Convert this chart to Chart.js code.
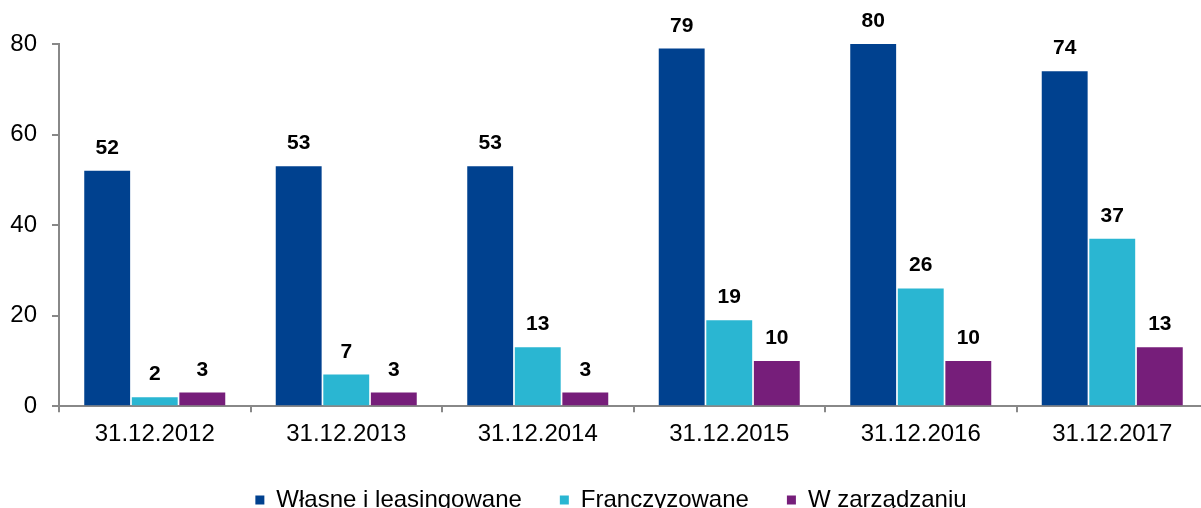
<!DOCTYPE html>
<html>
<head>
<meta charset="utf-8">
<script src="https://cdn.jsdelivr.net/npm/chart.js@4/dist/chart.umd.min.js"></script>
<style>
  html, body { margin: 0; padding: 0; overflow: hidden; background: #fff; }
  #wrap { width: 1215px; height: 522px; }
</style>
</head>
<body>
<div id="wrap"><canvas id="c" width="1215" height="522"></canvas></div>
<script>
const categories = ['31.12.2012', '31.12.2013', '31.12.2014', '31.12.2015', '31.12.2016', '31.12.2017'];
const seriesNames = ['Własne i leasingowane', 'Franczyzowane', 'W zarządzaniu'];
const wlasne = [52, 53, 53, 79, 80, 74];
const franczyzowane = [2, 7, 13, 19, 26, 37];
const wZarzadzaniu = [3, 3, 3, 10, 10, 13];
const yTicks = [0, 20, 40, 60, 80];
const colors = ['#00418F', '#2AB6D2', '#761E7A'];

const FONT = '"Liberation Sans", Arial, sans-serif';

const valueLabels = {
  id: 'valueLabels',
  afterDatasetsDraw(chart) {
    const ctx = chart.ctx;
    ctx.save();
    ctx.font = 'bold 21px ' + FONT;
    ctx.fillStyle = '#000';
    ctx.textAlign = 'center';
    ctx.textBaseline = 'alphabetic';
    chart.data.datasets.forEach((ds, i) => {
      const meta = chart.getDatasetMeta(i);
      meta.data.forEach((bar, j) => {
        ctx.fillText(String(ds.data[j]), bar.x, bar.y - 17);
      });
    });
    ctx.restore();
  }
};

const legendShift = {
  id: 'legendShift',
  afterLayout(chart) {
    if (chart.legend) {
      chart.legend.left += 7;
      chart.legend.right += 7;
    }
  }
};

new Chart(document.getElementById('c'), {
  type: 'bar',
  data: {
    labels: categories,
    datasets: [
      { label: seriesNames[0], data: wlasne, backgroundColor: colors[0] },
      { label: seriesNames[1], data: franczyzowane, backgroundColor: colors[1] },
      { label: seriesNames[2], data: wZarzadzaniu, backgroundColor: colors[2] }
    ]
  },
  options: {
    responsive: false,
    animation: false,
    datasets: { bar: { categoryPercentage: 0.745, barPercentage: 0.965 } },
    layout: { padding: { top: 44, right: 7, left: 0, bottom: 0 } },
    plugins: {
      legend: {
        position: 'bottom',
        labels: {
          font: { family: FONT, size: 24 },
          color: '#000',
          boxWidth: 9,
          boxHeight: 9,
          padding: 38
        }
      },
      tooltip: { enabled: false }
    },
    scales: {
      x: {
        afterFit(scale) { scale.height -= 7; },
        grid: { drawOnChartArea: false, drawTicks: true, tickLength: 6, color: '#888', lineWidth: 2, offset: true },
        border: { display: true, color: '#888', width: 2 },
        ticks: { font: { family: FONT, size: 24 }, color: '#000', padding: 8 }
      },
      y: {
        min: 0,
        max: 80,
        afterBuildTicks(scale) { scale.ticks = yTicks.map(v => ({ value: v })); },
        afterFit(scale) { scale.width = 59; },
        grid: { drawOnChartArea: false, drawTicks: true, tickLength: 7, color: '#888', lineWidth: 2 },
        border: { display: true, color: '#888', width: 2 },
        ticks: { font: { family: FONT, size: 24 }, color: '#000', padding: 15 }
      }
    }
  },
  plugins: [valueLabels, legendShift]
});
</script>
</body>
</html>
